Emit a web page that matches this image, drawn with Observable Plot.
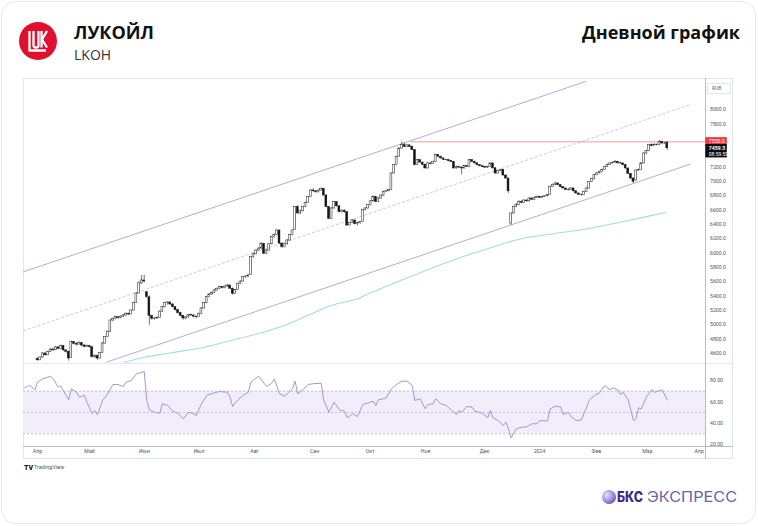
<!DOCTYPE html>
<html><head><meta charset="utf-8">
<script src="https://cdn.jsdelivr.net/npm/d3@7"></script>
<script src="https://cdn.jsdelivr.net/npm/@observablehq/plot@0.6"></script>
<style>
body{margin:0;background:#fff;width:758px;height:526px;overflow:hidden;font-family:"Open Sans",sans-serif;position:relative;}
#card{position:absolute;left:1px;top:1px;width:755px;height:523px;border:1px solid #e7e7ee;border-radius:14px;box-sizing:border-box;}
#overlay{position:absolute;left:0;top:0;}
.pane{position:absolute;left:23px;width:710px;}
#panel{position:absolute;left:23px;top:78px;width:710px;height:381px;border:1px solid #e3e5ec;box-sizing:border-box;}
.line{position:absolute;background:#e3e5ec;}
</style></head>
<body>
<div id="card"></div>
<div id="panel"></div>
<div class="line" style="left:23px;top:363px;width:710px;height:1px;background:#e6e8ee"></div>
<div class="line" style="left:23px;top:446px;width:710px;height:1px;background:#b9bdc6"></div>
<div class="line" style="left:705px;top:78px;width:1px;height:381px;background:#b9bdc6"></div>
<div class="line" style="left:707px;top:83px;width:24px;height:11px;background:#fff;border:1px solid #e3e5ec;box-sizing:border-box;font:5px Roboto;color:#666;line-height:9px;padding-left:4px">RUB</div>
<div id="price" class="pane" style="top:78px"></div>
<div id="rsi" class="pane" style="top:363px"></div>
<svg id="overlay" width="758" height="526">
  <circle cx="38" cy="41" r="19" fill="#e0102e"/>
  <g fill="none" stroke="#fff" stroke-width="2.3" stroke-linejoin="miter">
    <path d="M29.5 31 V50.5 H46"/>
    <path d="M33.5 31 V45.5 Q33.5 47.5 36 47.5 Q38.5 47.5 38.5 45.5 V31"/>
    <path d="M41.5 31 V47.5 M47 31 L42 39.5 L47 47.5"/>
  </g>
  <text x="74" y="38.5" font-family="Open Sans" font-weight="700" font-size="18" fill="#111">ЛУКОЙЛ</text>
  <text x="74" y="60" font-family="Open Sans" font-size="14" fill="#333">LKOH</text>
  <text x="740" y="38.5" text-anchor="end" font-family="Open Sans" font-weight="700" font-size="18" fill="#111">Дневной график</text>
  <text x="24" y="469.5" font-family="Roboto" font-weight="900" font-size="7" fill="#131722">TV</text>
  <text x="34" y="469" font-family="Roboto" font-size="5.5" fill="#555">TradingView</text>
  <defs><radialGradient id="bg" cx="0.35" cy="0.35" r="0.75"><stop offset="0" stop-color="#e6e0fb"/><stop offset="0.6" stop-color="#9d8fe0"/><stop offset="1" stop-color="#5a46b8"/></radialGradient></defs>
  <circle cx="609" cy="497" r="7" fill="url(#bg)"/>
  <text x="617" y="502" font-family="Inter" font-weight="800" font-size="14" fill="#3a2a8c" textLength="26" lengthAdjust="spacingAndGlyphs">БКС</text>
  <text x="647" y="502" font-family="Inter" font-weight="400" font-size="14" fill="#6c62a8" textLength="90" lengthAdjust="spacingAndGlyphs">ЭКСПРЕСС</text>
</svg>
<script>
// ---- data (x = trading-day index from 3 Apr 2023) ----
const opens = [4520,4500,4540,4596,4570,4620,4650,4640,4680,4660,
4700,4638,4620,4530,4753,4730,4720,4740,4707,4690,
4700,4684,4544,4560,4526,4600,4735,4823,4900,5056,
5080,5102,5090,5110,5126,5150,5140,5196,5300,5433,
5573,5615,5450,5380,5120,5080,5084,5090,5180,5242,
5300,5308,5280,5242,5200,5158,5120,5084,5100,5130,
5126,5110,5102,5150,5224,5300,5382,5420,5440,5475,
5500,5521,5510,5530,5545,5500,5429,5480,5569,5600,
5661,5670,5690,5940,5980,6033,6060,6127,5989,6033,
6120,6219,6250,6312,6130,6080,6120,6173,6250,6320,
6638,6550,6580,6638,6700,6777,6871,6860,6847,6870,
6894,6801,6638,6476,6620,6708,6650,6568,6590,6568,
6382,6420,6452,6400,6415,6430,6596,6620,6666,6720,
6783,6713,6759,6800,6853,6860,6880,7108,7224,7341,
7457,7503,7480,7500,7480,7434,7224,7294,7260,7230,
7178,7248,7240,7270,7364,7340,7318,7300,7294,7280,
7270,7178,7200,7190,7178,7210,7200,7294,7270,7250,
7224,7210,7200,7190,7200,7248,7180,7108,7140,7155,
7080,7038,6410,6550,6640,6666,6713,6700,6730,6720,
6759,6740,6770,6783,6770,6783,6790,6806,6922,6950,
6969,6945,6920,6899,6880,6875,6899,6860,6829,6810,
6806,6850,6899,6992,7030,7085,7110,7131,7160,7201,
7230,7248,7260,7271,7250,7248,7224,7178,7100,7038,
7010,7150,7155,7248,7387,7420,7503,7490,7510,7503,
7550,7527,7540];
const highs = [4535,4550,4610,4605,4630,4665,4670,4695,4690,4715,
4705,4650,4630,4770,4765,4745,4760,4750,4720,4715,
4710,4690,4580,4575,4610,4745,4835,4910,5065,5095,
5115,5110,5125,5140,5165,5160,5205,5310,5445,5600,
5685,5690,5460,5400,5130,5100,5110,5190,5250,5310,
5320,5315,5290,5250,5210,5170,5130,5115,5140,5145,
5135,5120,5160,5235,5310,5390,5430,5455,5490,5510,
5535,5530,5545,5560,5550,5510,5490,5580,5610,5670,
5680,5700,5950,5995,6045,6075,6145,6135,6045,6130,
6230,6265,6330,6320,6140,6130,6185,6260,6320,6650,
6660,6595,6650,6710,6790,6885,6895,6870,6880,6910,
6900,6810,6650,6630,6720,6715,6660,6600,6600,6575,
6430,6465,6460,6425,6440,6605,6630,6675,6730,6795,
6790,6770,6810,6865,6875,6885,7115,7235,7350,7465,
7550,7530,7515,7510,7490,7440,7305,7300,7270,7240,
7260,7255,7280,7375,7370,7350,7325,7310,7300,7290,
7275,7210,7210,7200,7215,7220,7300,7300,7280,7260,
7235,7220,7210,7210,7260,7255,7190,7150,7165,7160,
7090,7045,6560,6650,6690,6730,6725,6745,6740,6770,
6765,6780,6795,6790,6795,6800,6815,6935,6960,6985,
6975,6950,6925,6905,6900,6910,6905,6865,6835,6820,
6860,6910,7000,7040,7095,7120,7140,7170,7210,7240,
7260,7270,7290,7275,7270,7255,7230,7185,7110,7045,
7160,7170,7260,7400,7430,7515,7520,7525,7520,7570,
7560,7545,7550];
const lows = [4490,4495,4530,4560,4565,4610,4625,4635,4650,4655,
4630,4600,4490,4525,4715,4700,4715,4695,4675,4680,
4670,4530,4530,4500,4520,4595,4725,4815,4895,5040,
5065,5070,5080,5100,5115,5125,5135,5190,5295,5425,
5560,5580,5360,4990,5060,5060,5070,5085,5170,5230,
5270,5265,5230,5190,5145,5110,5060,5070,5090,5110,
5095,5080,5095,5145,5215,5290,5370,5405,5430,5465,
5490,5495,5500,5520,5490,5410,5420,5475,5560,5590,
5640,5660,5685,5925,5970,6020,6050,5975,5980,6025,
6110,6205,6240,6120,6060,6070,6110,6165,6240,6315,
6540,6535,6570,6630,6690,6770,6845,6830,6835,6860,
6790,6630,6460,6470,6610,6640,6560,6555,6555,6370,
6375,6410,6390,6375,6400,6425,6585,6610,6655,6710,
6700,6705,6750,6790,6840,6850,6875,7100,7215,7335,
7450,7470,7470,7470,7425,7215,7215,7250,7220,7170,
7170,7230,7235,7265,7330,7310,7290,7285,7270,7260,
7170,7170,7180,7090,7170,7190,7195,7260,7240,7215,
7200,7190,7180,7180,7195,7170,7100,7100,7130,7070,
7030,6830,6386,6540,6630,6655,6690,6695,6705,6710,
6730,6735,6760,6760,6765,6775,6780,6800,6915,6940,
6935,6910,6890,6870,6865,6870,6850,6820,6800,6790,
6800,6845,6890,6985,7020,7075,7100,7120,7150,7195,
7220,7240,7250,7240,7235,7215,7170,7095,7030,6970,
7000,7140,7150,7240,7375,7410,7480,7485,7490,7495,
7510,7515,7430];
const closes = [4500,4540,4596,4570,4620,4650,4640,4680,4660,4700,
4638,4620,4526,4753,4730,4720,4740,4707,4690,4700,
4684,4544,4560,4526,4600,4735,4823,4900,5056,5080,
5102,5090,5110,5126,5150,5140,5196,5300,5433,5573,
5615,5600,5382,5120,5080,5084,5090,5180,5242,5300,
5308,5280,5242,5200,5158,5120,5084,5100,5130,5126,
5110,5102,5150,5224,5300,5382,5420,5440,5475,5500,
5521,5510,5530,5545,5500,5429,5480,5569,5600,5661,
5670,5685,5940,5980,6033,6060,6127,5989,6033,6120,
6219,6250,6312,6130,6080,6120,6173,6250,6312,6638,
6550,6580,6638,6700,6777,6871,6860,6847,6870,6894,
6801,6638,6476,6620,6708,6650,6568,6590,6568,6382,
6420,6452,6400,6415,6430,6596,6620,6666,6720,6783,
6713,6759,6800,6853,6860,6875,7108,7224,7341,7457,
7503,7480,7500,7480,7434,7224,7294,7260,7230,7178,
7248,7240,7270,7364,7340,7318,7300,7294,7280,7270,
7178,7200,7190,7178,7210,7200,7294,7270,7250,7224,
7210,7200,7190,7200,7248,7180,7108,7140,7155,7080,
7038,6860,6550,6640,6666,6713,6700,6730,6720,6759,
6740,6770,6783,6770,6783,6790,6806,6922,6950,6969,
6945,6920,6899,6880,6875,6899,6860,6829,6810,6806,
6850,6899,6992,7030,7085,7110,7131,7160,7201,7230,
7248,7260,7271,7250,7248,7224,7178,7100,7038,6992,
7150,7155,7248,7387,7420,7503,7490,7510,7503,7550,
7527,7530,7459.5];

// 200-day moving average (bar, value)
const maBars   = [33.4,41.1,52.7,64.2,74.4,84.7,94.9,103.9,112.9,123.1,125.7,139.5,151,162.6,173.3,186.3,199.1,211.9,224.7,241.4];
const maValues = [4474,4544,4614,4684,4777,4871,4987,5126,5266,5359,5405,5613,5780,5936,6061,6201,6271,6340,6434,6564];

// trend channel drawings (bar, price)
const upperBars = [-5.4, 210.6], upperPrices = [5736, 8392];
const midBars   = [-5.4, 251],   midPrices   = [4913, 8071];
const lowerBars = [26.5, 250.8], lowerPrices = [4474, 7238];
const resistanceBars = [143.5, 256.7], resistancePrice = 7550;
const lastPrice = 7459.5, countdown = "08:59:59";

// RSI (bar, value)
const rsiBars = [-5,-3,-1,0,2,5,6,8,9,12,13,15,16,18,19,21,22,23,25,27,29,31,33,34,36,38,41,42,43,45,47,48,50,52,54,56,58,60,61,63,65,68,70,73,74,75,77,79,81,82,85,88,90,91,93,95,97,98,99,100,102,104,106,109,110,112,114,116,118,119,121,123,125,129,130,131,133,134,136,138,140,142,144,145,147,149,150,152,153,155,157,159,161,162,163,165,167,168,171,173,174,175,177,179,180,181,182,184,186,188,190,192,193,196,197,199,201,202,204,205,207,209,211,212,214,216,218,220,221,223,224,225,227,229,230,231,232,234,236,237,240,242];
const rsiValues = [73.2,75.4,71.3,78.5,81.6,84.1,81.6,73.8,74.7,61.9,72.3,69,64.4,66,59.7,48.8,51.9,48.1,61.3,67.6,76.3,76.3,74.4,78.5,80,86.3,88.5,61.3,52.5,50.3,49.3,58.2,56.6,51.2,49.3,44.1,50.3,48.8,47.2,58.2,66,68.5,69.7,69,64.4,55.6,61.9,66,69,78.5,84.1,74.4,77.5,81.6,67.6,65.3,70,72.3,79.4,67.6,71.3,76.3,77,77.5,61.3,50.3,59.7,52.5,51.2,45,48.8,46.2,57.5,60.6,56.6,61.9,62.9,63.8,72.3,76.3,79.4,79.4,75.4,61.3,62.9,53.5,57.5,58.2,62.9,58.2,56.6,52.5,48.1,51.9,50.3,55.6,55,51.2,49.3,45,51.9,45,42.5,37.8,40.9,34.7,26.2,34.7,36.2,36.6,39.4,39.4,42.5,42,53.5,56,55.3,48.1,50.3,46.2,42.5,43,55,61.3,66,68.5,75.4,71.3,73.2,71.3,66.9,69,61.9,42.5,44.1,54.4,53.5,64.4,71.3,69,71.3,61.9];
const rsiLevels = [70, 50, 30];
const rsiTicks = [20, 40, 60, 80];

// axes
const priceTicks = [4600,4800,5000,5200,5400,5600,5800,6000,6200,6400,6600,6800,7000,7200,7800,8000];
const monthLabels = ["Апр","Май","Июн","Июл","Авг","Сен","Окт","Ноя","Дек","2024","Фев","Мар","Апр"];
const monthBars   = [0,20,41.1,62.1,83.4,106.5,127.8,149.1,171.8,192.9,214.8,234.4,254.3];

// ---- build ----
const xDomain = [-5.38, 256.7];
const candles = closes.map((c, i) => ({i, o: opens[i], h: highs[i], l: lows[i], c}));
const up = candles.filter(d => d.c >= d.o), down = candles.filter(d => d.c < d.o);
const pts = (xs, ys) => xs.map((x, k) => ({x, y: ys[k]}));
const bw = 0.36;

const price = Plot.plot({
  width: 710, height: 285, marginLeft: 0, marginRight: 28, marginTop: 0, marginBottom: 0,
  x: {domain: xDomain, axis: null},
  y: {domain: [4456, 8434], axis: null},
  style: {fontFamily: "Roboto", fontSize: "5.2px", background: "transparent", overflow: "visible"},
  marks: [
    Plot.axisY(priceTicks, {anchor: "right", tickSize: 0, tickPadding: 4.5, tickFormat: d => d.toFixed(1), fill: "#555", label: null}),
    Plot.line(pts(maBars, maValues), {x: "x", y: "y", stroke: "#a3dbe4", strokeWidth: 1.1, curve: "catmull-rom", clip: true}),
    Plot.line(pts(upperBars, upperPrices), {x: "x", y: "y", stroke: "#b8a9dd", strokeWidth: 1, clip: true}),
    Plot.line(pts(lowerBars, lowerPrices), {x: "x", y: "y", stroke: "#b8a9dd", strokeWidth: 1, clip: true}),
    Plot.line(pts(midBars, midPrices), {x: "x", y: "y", stroke: "#c9c2dc", strokeWidth: 0.9, strokeDasharray: "2.5,2.5", clip: true}),
    Plot.line(resistanceBars.map(x => ({x, y: resistancePrice})), {x: "x", y: "y", stroke: "#f09a9a", strokeWidth: 1, clip: true}),
    Plot.ruleX(candles, {x: "i", y1: "l", y2: "h", stroke: "#1a1a1a", strokeWidth: 0.6, clip: true}),
    Plot.rect(up, {x1: d => d.i - bw, x2: d => d.i + bw, y1: "o", y2: "c", fill: "#ffffff", stroke: "#222", strokeWidth: 0.5, clip: true}),
    Plot.rect(down, {x1: d => d.i - bw, x2: d => d.i + bw, y1: "o", y2: "c", fill: "#161616", stroke: "#161616", strokeWidth: 0.5, clip: true})
  ]
});
document.getElementById("price").appendChild(price);

// price labels on the axis, positioned through the y scale
const ys = price.scale("y");
const svg = d3.select(price);
const axX = 682.3;
const yR = ys.apply(resistancePrice);
svg.append("rect").attr("x", axX).attr("y", yR - 4.2).attr("width", 21.5).attr("height", 8).attr("fill", "#f23645");
svg.append("text").attr("x", axX + 3.5).attr("y", yR + 1.8).attr("text-anchor", "start").attr("fill", "#fff").attr("font-size", 5.2).attr("font-family", "Roboto").text(resistancePrice.toFixed(1));
const yL = ys.apply(lastPrice);
svg.append("rect").attr("x", axX).attr("y", yL - 3.8).attr("width", 21.5).attr("height", 13.4).attr("fill", "#0c0c0c");
svg.append("text").attr("x", axX + 3.5).attr("y", yL + 2).attr("text-anchor", "start").attr("fill", "#fff").attr("font-size", 5.2).attr("font-weight", 700).attr("font-family", "Roboto").text(lastPrice.toFixed(1));
svg.append("text").attr("x", axX + 3.5).attr("y", yL + 8.2).attr("text-anchor", "start").attr("fill", "#fff").attr("font-size", 5).attr("font-family", "Roboto").text(countdown);

const rsiPts = rsiBars.map((b, k) => ({x: b, y: rsiValues[k]}));
const months = monthBars.map((b, k) => ({x: b, label: monthLabels[k]}));
const rsi = Plot.plot({
  width: 710, height: 96, marginLeft: 0, marginRight: 28, marginTop: 0, marginBottom: 13,
  x: {domain: xDomain, axis: null},
  y: {domain: [18.1, 96], axis: null},
  style: {fontFamily: "Roboto", fontSize: "5.2px", background: "transparent", overflow: "visible"},
  marks: [
    Plot.rect([{y1: rsiLevels[2], y2: rsiLevels[0]}], {y1: "y1", y2: "y2", fill: "#f1edfa"}),
    Plot.ruleY(rsiLevels, {stroke: "#b3b3c2", strokeWidth: 0.8, strokeDasharray: "2,2"}),
    Plot.line(rsiPts, {x: "x", y: "y", stroke: "#a695d6", strokeWidth: 1}),
    Plot.axisY(rsiTicks, {anchor: "right", tickSize: 0, tickPadding: 4.5, tickFormat: d => d.toFixed(2), fill: "#555", label: null}),
    Plot.text(months, {x: "x", text: "label", frameAnchor: "bottom", dy: 6.8, fill: "#555"})
  ]
});
document.getElementById("rsi").appendChild(rsi);
</script>
</body></html>
